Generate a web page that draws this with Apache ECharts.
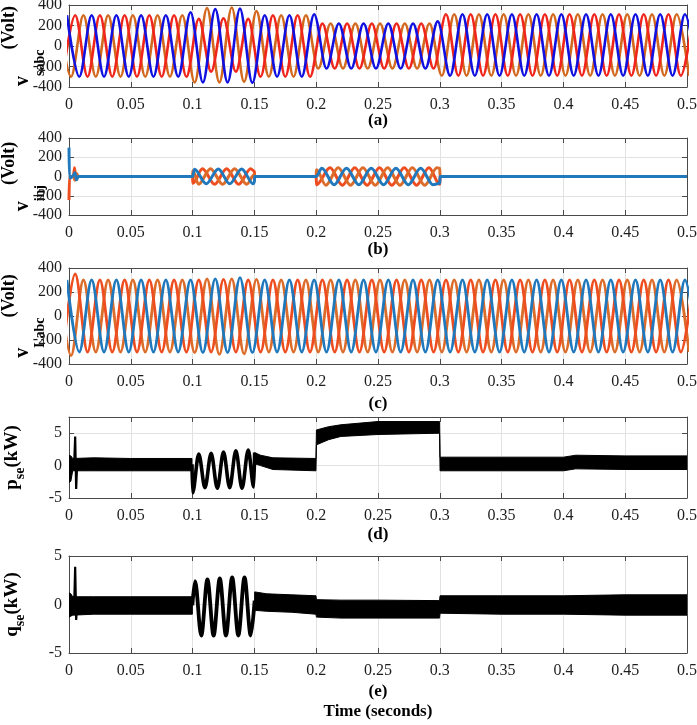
<!DOCTYPE html>
<html><head><meta charset="utf-8">
<script src="https://cdn.jsdelivr.net/npm/echarts@6/dist/echarts.min.js"></script>
<style>html,body{margin:0;padding:0;background:#fff}#c{width:697px;height:725px}</style>
</head><body><div id="c"></div>
<script>
// ================= DATA =================
// Half-cycle spacing of the 50 Hz waveforms (s) and time of first extremum per phase
const HALF = 0.01;
const T0_A = -0.005, T0_B = -0.0083333, T0_C = -0.0016667;

// (a) source voltages v_sabc : successive extremum values (V), one per half cycle
const vsA = [-300,300,-300,300,-300,300,-300,300,-300,300,-300, 265,-250,270,-250,265, -300,300,-300,300,-300,
  220,-220,220,-220,220,-220,220,-220,220,-220,
  310,-290,310,-290,310,-290,310,-290,310,-290,310,-290,310,-290,310,-290,310,-290,310,-290,310];
const vsB = [300,-300,300,-300,300,-300,300,-300,300,-300,300, -355,370,-355,375,-350,340, -300,300,-300,300,
  -220,220,-220,220,-220,220,-220,220,-220,220,
  -290,310,-290,310,-290,310,-290,310,-290,310,-290,310,-290,310,-290,310,-290,310,-290,310,-290];
const vsC = [300,-300,300,-300,300,-300,300,-300,300,-300, 330, -355,360,-355,365,-360, 300,-300,300,-300, 310,
  -220,220,-220,220,-220,220,-220,220,-220, 240,
  -290,310,-290,310,-290,310,-290,310,-290,310,-290,310,-290,310,-290,310,-290,310,-290,310,-290];

// (c) load voltages v_Labc : extremum values (V)
const vlA = [-300,350,-300,300,-300,300,-300,300,-300,300,-300, 300,-300,305,-300,300, -300,300,-300,300,-300,
  300,-300,300,-300,300,-300,300,-300,300,-300,
  300,-300,300,-300,300,-300,300,-300,300,-300,300,-300,300,-300,300,-300,300,-300,300,-300,300];
const vlB = [300,-330,300,-300,300,-300,300,-300,300,-300,300, -305,310,-320,310,-315,305, -300,300,-300,300,
  -300,300,-300,300,-300,300,-300,300,-300,300,
  -300,300,-300,300,-300,300,-300,300,-300,300,-300,300,-300,300,-300,300,-300,300,-300,300,-300];
const vlC = [300,-300,300,-300,300,-300,300,-300,300,-300, 300, -305,310,-305,320,-305, 300,-300,300,-300, 300,
  -300,300,-300,300,-300,300,-300,300,-300, 300,
  -300,300,-300,300,-300,300,-300,300,-300,300,-300,300,-300,300,-300,300,-300,300,-300,300,-300];

// (b) injected voltages v_inj : (time s, value V)
const vinjA_t = [0,0.0004,0.0035,0.0045,0.0055,0.007, 0.1,0.1002,0.108,0.1178,0.1275,0.1373,0.147,0.15,0.1502,
  0.2,0.2002,0.2112,0.2212,0.2312,0.2412,0.2512,0.2612,0.2712,0.2812,0.2912, 0.3,0.3002,0.5];
const vinjA_v = [-245,0,0,90,-30,0, 0,-70,80,-80,80,-80,80,55,0, 0,-85,90,-90,90,-90,90,-90,90,-90,90, -80,0,0];
const vinjB_t = [0,0.0035,0.0048,0.006,0.0075, 0.1,0.1002,0.1048,0.1145,0.1243,0.134,0.1438,0.15,0.1502,
  0.2,0.2002,0.2078,0.2178,0.2278,0.2378,0.2478,0.2578,0.2678,0.2778,0.2878,0.2978, 0.3,0.3002,0.5];
const vinjB_v = [0,0,-40,35,0, 0,60,-80,80,-80,80,-80,20,0, 0,70,-90,90,-90,90,-90,90,-90,90,-90,90, 85,0,0];
const vinjC_t = [0,0.0003,0.0012,0.0035,0.0048,0.006,0.0075, 0.1,0.1015,0.111,0.1208,0.130,0.1397,0.149,0.15,0.1502,
  0.2,0.2045,0.2145,0.2245,0.2345,0.2445,0.2545,0.2645,0.2745,0.2845,0.2945, 0.3,0.3002,0.5];
const vinjC_v = [300,0,-15,10,40,-35,0, 0,75,-75,78,-75,78,-75,-62,0, 0,85,-85,85,-85,85,-85,85,-85,85,-85, -70,0,0];

// (d) p_se (kW): ripple band envelopes and oscillating parts
const pB1_t = [0,0.0015,0.003,0.02,0.05,0.0995];
const pB1_hi = [1.6,1.5,1.1,1.2,1.1,1.1];
const pB1_lo = [-2.6,-2.4,-0.8,-0.8,-0.8,-0.8];
const pB2_t = [0.1502,0.155,0.165,0.1998,0.2002,0.21,0.22,0.25,0.2998,0.3002,0.35,0.4,0.41,0.45,0.5];
const pB2_hi = [2.0,1.6,1.2,1.1,5.5,6.0,6.3,6.8,6.8,1.3,1.3,1.3,1.6,1.5,1.5];
const pB2_lo = [0.3,0.0,-0.6,-0.8,3.2,4.0,4.5,4.8,5.0,-0.8,-0.8,-0.8,-0.5,-0.6,-0.6];
const pSpk_t = [0.0042,0.005,0.0058,0.0066];
const pSpk_v = [0.3,4.5,-3.6,0.2];
const pOsc_t = [0.0995,0.1,0.105,0.11,0.115,0.12,0.125,0.13,0.135,0.14,0.145,0.1495,0.1502];
const pOsc_v = [0.2,-4.2,1.8,-3.4,1.9,-3.5,2.1,-3.4,2.3,-3.5,2.4,-3.3,2.0];

// (e) q_se (kW)
const qB1_t = [0,0.0015,0.003,0.02,0.05,0.0998];
const qB1_hi = [1.2,1.1,0.8,0.8,0.8,0.8];
const qB1_lo = [-1.3,-1.2,-1.1,-1.0,-1.0,-1.0];
const qB2_t = [0.1502,0.16,0.18,0.1998,0.2002,0.22,0.25,0.2998,0.3002,0.35,0.4,0.45,0.5];
const qB2_hi = [1.3,1.1,1.0,0.9,0.5,0.45,0.45,0.4,0.9,0.9,0.9,1.0,1.0];
const qB2_lo = [-0.6,-0.7,-0.8,-1.0,-1.3,-1.4,-1.4,-1.4,-0.9,-1.0,-1.0,-1.1,-1.1];
const qSpk_t = [0.0042,0.005,0.0058,0.0066];
const qSpk_v = [0,3.9,-1.6,0];
const qOsc_t = [0.0998,0.102,0.107,0.112,0.117,0.122,0.127,0.132,0.137,0.142,0.147,0.1502];
const qOsc_v = [-0.1,2.4,-3.2,2.6,-3.2,2.7,-3.2,2.8,-3.2,2.8,-3.2,0.4];

// Axis ranges and texts
const xRange = [0, 0.5, 0.05];
const yRanges = [[-400,400,200],[-400,400,200],[-400,400,200],[-5,7.5,5],[-5,5,5]];
const panelLabels = ['(a)','(b)','(c)','(d)','(e)'];
const yTitles = ['{m|v}{s|sabc}{u|(Volt)}','{m|v}{s|inj}{u|(Volt)}','{m|v}{s|Labc}{u|(Volt)}','{p|p}{q|se}{p|(kW)}','{p|q}{q|se}{p|(kW)}'];
const xTitle = 'Time (seconds)';

// ================= LAYOUT / STYLE =================
const FONT = '"Liberation Serif","Times New Roman",serif';
const AX = '#4a4a4a', GRIDC = '#e2e2e2', TXT = '#1e1e1e';
const gridPos = [[5,82],[138,77],[268,96],[417,81],[556,97]];
const xNameGap = [25,26,31,28,30];
const yNameGap = [36,36,36,47,47];
const COL_A = {r:'#f0261c', o:'#d2691f', b:'#1010e0'};
const COL_BC = {r:'#ee4d1f', o:'#dc6c2a', b:'#2078bd'};

const pairs = (t, v) => t.map((x, i) => [x, v[i]]);
const extrema = (t0, v) => v.map((y, k) => [t0 + HALF * k, y]);

const rich = {
  m:{fontFamily:FONT,fontWeight:'bold',fontSize:20,lineHeight:20,color:'#000'},
  s:{fontFamily:FONT,fontWeight:'bold',fontSize:14,lineHeight:14,padding:[34,0,0,0],color:'#000'},
  u:{fontFamily:FONT,fontWeight:'bold',fontSize:18,lineHeight:20,padding:[0,0,28,0],color:'#000'},
  p:{fontFamily:FONT,fontWeight:'bold',fontSize:19,lineHeight:20,color:'#000'},
  q:{fontFamily:FONT,fontWeight:'bold',fontSize:14,lineHeight:14,padding:[16,0,0,0],color:'#000'}
};

const grid = [], xAxis = [], yAxis = [], series = [];
for (let i = 0; i < 5; i++) {
  grid.push({left:69, right:10, top:gridPos[i][0], height:gridPos[i][1], containLabel:false, outerBoundsMode:'none'});
  const yr = yRanges[i];
  for (const top of [false, true]) {
    xAxis.push({type:'value', gridIndex:i, min:xRange[0], max:xRange[1], interval:xRange[2],
      position: top ? 'top' : 'bottom', nameMoveOverlap:false,
      axisLine:{show:true, onZero:false, lineStyle:{color:AX, width:1}},
      axisTick:{show:true, inside:true, length:5, lineStyle:{color:AX}},
      axisLabel: top ? {show:false} : {show:true, margin:10, fontFamily:FONT, fontSize:16, color:TXT},
      splitLine: top ? {show:false} : {show:true, lineStyle:{color:GRIDC, width:1}},
      name: top ? '' : panelLabels[i], nameLocation:'middle', nameGap:xNameGap[i],
      nameTextStyle:{fontFamily:FONT, fontWeight:'bold', fontSize:17, color:'#000'}});
    yAxis.push({type:'value', gridIndex:i, min:yr[0], max:yr[1], interval:yr[2],
      position: top ? 'right' : 'left', nameMoveOverlap:false,
      axisLine:{show:true, onZero:false, lineStyle:{color:AX, width:1}},
      axisTick:{show:true, inside:true, length:5, lineStyle:{color:AX}},
      axisLabel: top ? {show:false} : {show:true, margin:7, fontFamily:FONT, fontSize:16, color:TXT, showMaxLabel: i !== 3},
      splitLine: top ? {show:false} : {show:true, lineStyle:{color:GRIDC, width:1}},
      name: top ? '' : yTitles[i], nameLocation:'middle', nameGap:yNameGap[i], nameRotate:90,
      nameTextStyle:{rich: rich}});
  }
}
// indices: bottom x of grid i = 2i, top = 2i+1 ; same for y
const ax = i => ({xAxisIndex:2*i, yAxisIndex:2*i});
const wave = (i, data, color, w) => Object.assign({type:'line', data, symbol:'none', smooth:1/3, smoothMonotone:'x',
  lineStyle:{color, width:w}, silent:true, animation:false}, ax(i));
// ripple band: filled polygon between the upper and lower envelopes, through the axis scales
const band = (i, t, hi, lo) => Object.assign({type:'custom', clip:true, silent:true, animation:false,
  data: t.map((x, k) => [x, hi[k], lo[k]]), encode:{x:0, y:[1,2]},
  renderItem: (params, api) => {
    if (params.dataIndex !== 0) return null;
    const pts = [];
    for (let k = 0; k < t.length; k++) pts.push(api.coord([t[k], hi[k]]));
    for (let k = t.length - 1; k >= 0; k--) pts.push(api.coord([t[k], lo[k]]));
    return {type:'polygon', shape:{points:pts}, style:{fill:'#000', stroke:'#000', lineWidth:1}};
  }}, ax(i));

// (a)
series.push(wave(0, extrema(T0_B, vsB), COL_A.o, 2.6));
series.push(wave(0, extrema(T0_A, vsA), COL_A.r, 2.6));
series.push(wave(0, extrema(T0_C, vsC), COL_A.b, 2.6));
// (b)
series.push(wave(1, pairs(vinjA_t, vinjA_v), COL_BC.r, 3));
series.push(wave(1, pairs(vinjB_t, vinjB_v), COL_BC.o, 3));
series.push(wave(1, pairs(vinjC_t, vinjC_v), COL_BC.b, 3));
// (c)
series.push(wave(2, extrema(T0_B, vlB), COL_BC.o, 2.8));
series.push(wave(2, extrema(T0_A, vlA), COL_BC.r, 2.8));
series.push(wave(2, extrema(T0_C, vlC), COL_BC.b, 2.8));
// (d)
series.push(band(3, pB1_t, pB1_hi, pB1_lo));
series.push(band(3, pB2_t, pB2_hi, pB2_lo));
series.push(Object.assign(wave(3, pairs(pSpk_t, pSpk_v), '#000', 2.2), {smooth:false}));
series.push(wave(3, pairs(pOsc_t, pOsc_v), '#000', 3.6));
// (e)
series.push(band(4, qB1_t, qB1_hi, qB1_lo));
series.push(band(4, qB2_t, qB2_hi, qB2_lo));
series.push(Object.assign(wave(4, pairs(qSpk_t, qSpk_v), '#000', 2.2), {smooth:false}));
series.push(wave(4, pairs(qOsc_t, qOsc_v), '#000', 3.8));

const chart = echarts.init(document.getElementById('c'), null, {renderer:'canvas', width:697, height:725});
chart.setOption({
  backgroundColor:'#fff', animation:false,
  grid, xAxis, yAxis, series,
  graphic:[{type:'text', x:378, y:712, style:{text:xTitle, fontFamily:FONT, fontWeight:'bold', fontSize:17,
    fill:'#000', align:'center', verticalAlign:'middle'}}]
});
</script></body></html>
